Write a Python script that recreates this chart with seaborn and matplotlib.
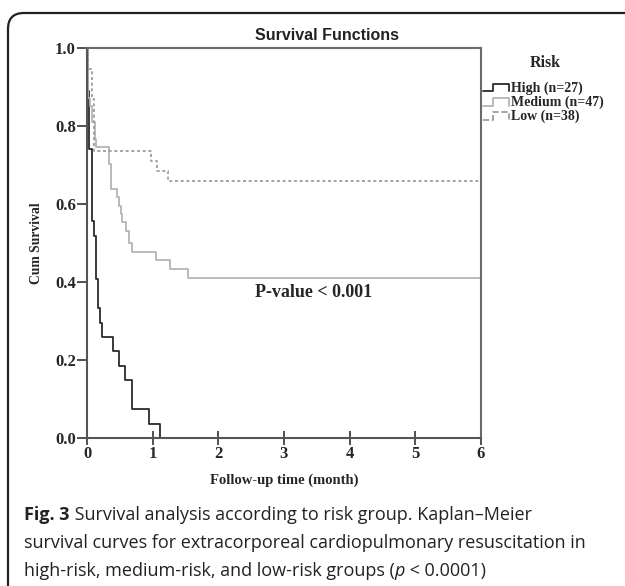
import matplotlib.pyplot as plt
import pandas as pd
import seaborn as sns
from matplotlib.legend_handler import HandlerBase
from matplotlib.lines import Line2D
from matplotlib.patches import FancyBboxPatch

# Kaplan-Meier steps: time (months) and cum survival after each step
high_time = [0, 0.01, 0.03, 0.07, 0.10, 0.13, 0.16, 0.20, 0.23, 0.39, 0.49, 0.58, 0.69, 0.95, 1.11]
high_surv = [1.0, 0.889, 0.741, 0.556, 0.519, 0.407, 0.333, 0.296, 0.259, 0.222, 0.185, 0.148, 0.074, 0.037, 0.0]

med_time = [0, 0.02, 0.05, 0.08, 0.12, 0.14, 0.34, 0.37, 0.46, 0.49, 0.52, 0.53, 0.59, 0.64, 0.68,
            1.05, 1.27, 1.54, 6.0]
med_surv = [1.0, 0.872, 0.851, 0.809, 0.766, 0.745, 0.702, 0.638, 0.617, 0.596, 0.574, 0.553, 0.532,
            0.50, 0.478, 0.456, 0.434, 0.41, 0.41]

low_time = [0, 0.02, 0.07, 0.11, 0.97, 1.06, 1.24, 6.0]
low_surv = [1.0, 0.947, 0.868, 0.737, 0.711, 0.684, 0.658, 0.658]

groups = ["High (n=27)", "Medium (n=47)", "Low (n=38)"]
colors = ["#2b2b2b", "#b4b4b4", "#959595"]
styles = ["-", "-", (0, (1.8, 1.6))]
widths = [1.3, 1.3, 1.2]

x_ticks = [0, 1, 2, 3, 4, 5, 6]
y_ticks = [0.0, 0.2, 0.4, 0.6, 0.8, 1.0]


class StepHandler(HandlerBase):
    # little step glyph like the SPSS legend
    def create_artists(self, legend, orig_handle, xd, yd, w, h, fontsize, trans):
        x0, y0 = -xd, -yd
        xs = [x0, x0 + 0.38 * w, x0 + 0.38 * w, x0 + w, x0 + w]
        ys = [y0 + 0.05 * h, y0 + 0.05 * h, y0 + 0.85 * h, y0 + 0.85 * h, y0 + 0.05 * h]
        ln = Line2D(xs, ys, color=orig_handle.get_color(), linestyle=orig_handle.get_linestyle(),
                    linewidth=orig_handle.get_linewidth(), transform=trans)
        return [ln]


sns.set_style("ticks")
plt.rcParams['font.family'] = ['Liberation Serif', 'DejaVu Serif']

W, H = 625, 586
fig = plt.figure(figsize=(W / 100, H / 100), dpi=100)
ax = fig.add_axes([87 / W, 1 - 438 / H, (481 - 87) / W, (438 - 48) / H])

data = [(high_time, high_surv), (med_time, med_surv), (low_time, low_surv)]
for (t, s), c, ls, lw in zip(data, colors, styles, widths):
    d = pd.DataFrame({"time": t, "surv": s})
    sns.lineplot(data=d, x="time", y="surv", ax=ax, drawstyle="steps-post", color=c,
                 linestyle=ls, linewidth=lw, estimator=None, sort=False, legend=False)

ax.set_xlim(0, 6)
ax.set_ylim(0, 1.0)
ax.set_xticks(x_ticks)
ax.set_xticklabels([str(v) for v in x_ticks], fontsize=12, fontweight="bold")
ax.set_yticks(y_ticks)
ax.set_yticklabels([f"{v:.1f}" for v in y_ticks], fontsize=12, fontweight="bold")
ax.tick_params(axis="x", direction="inout", length=10, width=1.2, color="#333", pad=1)
ax.tick_params(axis="y", direction="out", length=7, width=1.2, color="#333", pad=1)
for sp in ax.spines.values():
    sp.set_color("#6a6a6a")
    sp.set_linewidth(1.5)
ax.spines["left"].set_color("#555")
ax.spines["bottom"].set_color("#555")

ax.set_xlabel("Follow-up time (month)", fontsize=10.5, fontweight="bold", labelpad=8)
ax.set_ylabel("Cum Survival", fontsize=9.8, fontweight="bold", labelpad=9)
ax.text(3.45, 0.372, "P-value < 0.001", fontsize=13, fontweight="bold", ha="center", va="center")

fig.text(327 / W, 1 - 35 / H, "Survival Functions", fontsize=11.5, fontweight="bold",
         family=["Liberation Sans", "DejaVu Sans"], ha="center", va="center", color="#222")

fig.text(545 / W, 1 - 63 / H, "Risk", fontsize=11.5, fontweight="bold", ha="center", va="center")
handles = [Line2D([], [], color=c, linestyle=ls, linewidth=lw) for c, ls, lw in zip(colors, styles, widths)]
leg = fig.legend(handles, groups, loc="upper left", bbox_to_anchor=(470 / W, 1 - 69 / H),
                 frameon=False, handlelength=1.9, handletextpad=0.15, labelspacing=0.05,
                 handler_map={Line2D: StepHandler()}, prop={"weight": "bold", "size": 10})

# rounded frame around chart and caption (cut off at right and bottom)
box = FancyBboxPatch((8, -30), 660, 573 + 30, boxstyle="round,pad=0,rounding_size=16",
                     transform=None, facecolor="none", edgecolor="#222", linewidth=1.6, clip_on=False)
fig.add_artist(box)

cap = ["Survival analysis according to risk group. Kaplan\u2013Meier",
       "survival curves for extracorporeal cardiopulmonary resuscitation in",
       "high-risk, medium-risk, and low-risk groups ("]
cfont = ["Open Sans", "DejaVu Sans"]
fs = 13.0
t0 = fig.text(24 / W, 1 - 520 / H, "Fig. 3", fontsize=fs, fontweight="bold", family=cfont, color="#222")
ax.annotate(" " + cap[0], xy=(1, 0), xycoords=t0, va="bottom", ha="left", fontsize=fs,
            family=cfont, color="#222", annotation_clip=False)
fig.text(24 / W, 1 - 548 / H, cap[1], fontsize=fs, family=cfont, color="#222")
t2 = fig.text(24 / W, 1 - 576 / H, cap[2], fontsize=fs, family=cfont, color="#222")
t3 = ax.annotate("p", xy=(1, 0), xycoords=t2, va="bottom", ha="left", fontsize=fs,
                 family=cfont, style="italic", color="#222", annotation_clip=False)
ax.annotate(" < 0.0001)", xy=(1, 0), xycoords=t3, va="bottom", ha="left", fontsize=fs,
            family=cfont, color="#222", annotation_clip=False)

fig.savefig("out.png", dpi=100)
